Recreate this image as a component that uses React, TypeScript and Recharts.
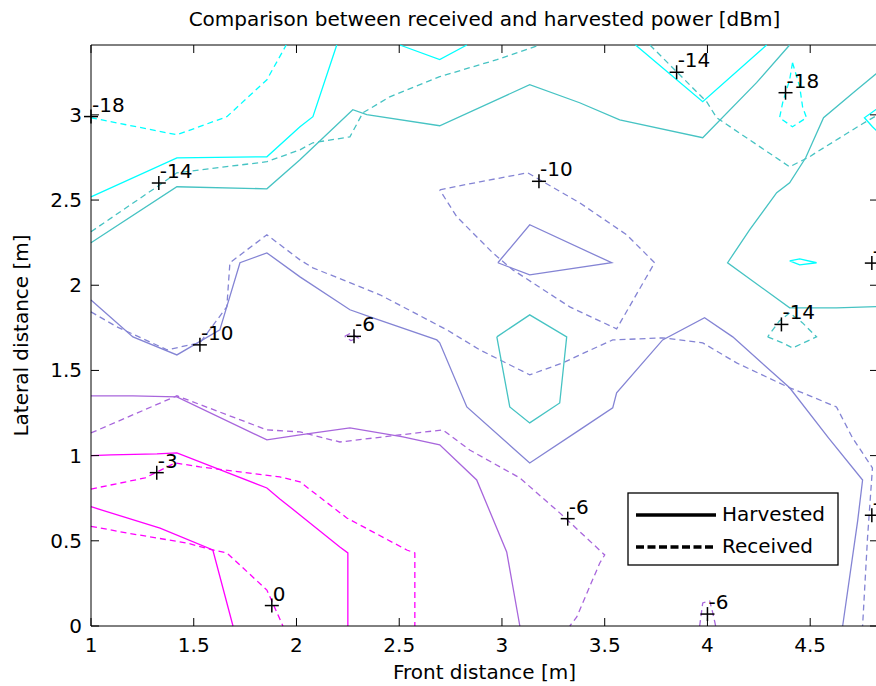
import { ComposedChart, Line, Scatter, XAxis, YAxis, ReferenceLine } from "recharts";

type Pt = [number, number];

// axis setup
const xDomain: [number, number] = [1, 4.83];
const yDomain: [number, number] = [0, 3.41];
const xTicks = [1, 1.5, 2, 2.5, 3, 3.5, 4, 4.5];
const yTicks = [0, 0.5, 1, 1.5, 2, 2.5, 3];

// contour colours per level (dBm)
const levelColors: Record<string, string> = {
  "0": "#ff00ff",
  "-3": "#ff00ff",
  "-6": "#a866dc",
  "-10": "#8484d4",
  "-14": "#46c3c3",
  "-18": "#00ffff",
};

// harvested power contours (solid)
const harvested0: Pt[] = [[1.0, 0.7], [1.336, 0.575], [1.593, 0.446], [1.691, 0.0]];
const harvested3: Pt[] = [
  [1.0, 1.0], [1.097, 1.004], [1.321, 1.01], [1.418, 1.016], [1.856, 0.81], [1.919, 0.746],
  [2.017, 0.652], [2.211, 0.464], [2.25, 0.429], [2.25, 0.0],
];
const harvested6: Pt[] = [
  [1.0, 1.351], [1.204, 1.351], [1.418, 1.345], [1.856, 1.092], [2.017, 1.122], [2.26, 1.163],
  [2.518, 1.11], [2.697, 1.063], [2.877, 0.857], [3.023, 0.435], [3.087, 0.0],
];
const harvested10: Pt[] = [
  [1.0, 1.914], [1.204, 1.697], [1.418, 1.591], [1.627, 1.738], [1.725, 2.132], [1.856, 2.19],
  [2.017, 2.049], [2.26, 1.856], [2.372, 1.809], [2.683, 1.679], [2.697, 1.662], [2.829, 1.286],
  [3.053, 1.045], [3.135, 0.957], [3.378, 1.151], [3.539, 1.28], [3.558, 1.368], [3.782, 1.679],
  [3.986, 1.809], [4.123, 1.697], [4.4, 1.398], [4.589, 1.104], [4.755, 0.857], [4.731, 0.617],
  [4.658, 0.0],
];
const harvested10Loop: Pt[] = [[2.98, 2.132], [3.135, 2.355], [3.534, 2.132], [3.135, 2.061], [2.98, 2.132]];
const harvested14Left: Pt[] = [
  [1.0, 2.249], [1.418, 2.578], [1.856, 2.566], [2.017, 2.736], [2.274, 3.03], [2.342, 3.001],
  [2.697, 2.936], [3.135, 3.177], [3.378, 3.071], [3.573, 2.971], [3.977, 2.866], [4.239, 3.189],
  [4.4, 3.41],
];
const harvested14Right: Pt[] = [
  [4.83, 3.25], [4.721, 3.142], [4.565, 2.983], [4.478, 2.748], [4.4, 2.601], [4.337, 2.543],
  [4.205, 2.325], [4.098, 2.132], [4.4, 1.867], [4.628, 1.867], [4.83, 1.875],
];
const harvested14Loop: Pt[] = [
  [2.975, 1.697], [3.135, 1.826], [3.315, 1.697], [3.281, 1.309], [3.135, 1.192], [3.038, 1.286],
  [2.975, 1.697],
];
const harvested18Left: Pt[] = [
  [1.0, 2.519], [1.418, 2.748], [1.856, 2.754], [2.017, 2.93], [2.08, 2.989], [2.196, 3.41],
];
const harvested18TopA: Pt[] = [[2.503, 3.41], [2.697, 3.324], [2.829, 3.41]];
const harvested18TopB: Pt[] = [[3.65, 3.41], [3.977, 3.077], [4.288, 3.41]];
const harvested18Loop: Pt[] = [[4.4, 2.143], [4.449, 2.155], [4.531, 2.132], [4.449, 2.12], [4.4, 2.143]];
const harvested18Edge: Pt[] = [[4.83, 3.04], [4.764, 2.983], [4.803, 2.93], [4.83, 2.9]];

// received power contours (dashed)
const received0: Pt[] = [
  [1.0, 0.585], [1.175, 0.546], [1.467, 0.487], [1.593, 0.446], [1.661, 0.429], [1.856, 0.211],
  [1.934, 0.0],
];
const received3: Pt[] = [
  [1.0, 0.804], [1.263, 0.869], [1.409, 0.957], [1.53, 0.934], [1.919, 0.875], [2.017, 0.846],
  [2.245, 0.634], [2.537, 0.446], [2.576, 0.429], [2.576, 0.0],
];
const received6: Pt[] = [
  [1.0, 1.133], [1.418, 1.351], [1.856, 1.151], [2.017, 1.139], [2.211, 1.08], [2.712, 1.151],
  [2.843, 1.033], [3.087, 0.869], [3.281, 0.664], [3.5, 0.417], [3.476, 0.37], [3.364, 0.053],
  [3.33, 0.0],
];
const received6LoopA: Pt[] = [[2.235, 1.7], [2.265, 1.72], [2.3, 1.69], [2.265, 1.675], [2.235, 1.7]];
const received6LoopB: Pt[] = [[3.962, 0.0], [3.977, 0.135], [4.011, 0.147], [4.025, 0.082], [4.04, 0.0]];
const received10: Pt[] = [
  [1.0, 1.844], [1.126, 1.756], [1.37, 1.621], [1.53, 1.662], [1.661, 1.873], [1.676, 2.132],
  [1.856, 2.296], [2.017, 2.149], [2.08, 2.102], [2.406, 1.944], [2.732, 1.738], [2.892, 1.621],
  [3.135, 1.474], [3.296, 1.544], [3.378, 1.591], [3.539, 1.679], [3.782, 1.691], [3.977, 1.662],
  [4.142, 1.544], [4.4, 1.398], [4.463, 1.368], [4.628, 1.286], [4.706, 1.104], [4.803, 0.928],
  [4.779, 0.517], [4.755, 0.0],
];
const received10Loop: Pt[] = [
  [2.697, 2.56], [2.892, 2.607], [3.125, 2.66], [3.378, 2.484], [3.607, 2.296], [3.743, 2.132],
  [3.558, 1.744], [3.33, 1.873], [3.053, 2.09], [2.955, 2.19], [2.78, 2.402], [2.697, 2.56],
];
const received14Left: Pt[] = [
  [1.0, 2.314], [1.321, 2.578], [1.418, 2.66], [1.856, 2.725], [2.017, 2.795], [2.08, 2.836],
  [2.26, 2.871], [2.323, 3.012], [2.454, 3.106], [2.697, 3.224], [2.975, 3.324], [3.184, 3.41],
];
const received14Right: Pt[] = [
  [3.72, 3.41], [3.996, 3.077], [4.045, 2.983], [4.4, 2.695], [4.497, 2.754], [4.526, 2.777],
  [4.755, 2.948], [4.83, 3.0],
];
const received14Loop: Pt[] = [
  [4.293, 1.697], [4.366, 1.662], [4.414, 1.632], [4.531, 1.697], [4.463, 1.779], [4.4, 1.838],
  [4.35, 1.79], [4.293, 1.697],
];
const received18Left: Pt[] = [[1.0, 2.983], [1.418, 2.883], [1.661, 2.989], [1.856, 3.206], [1.95, 3.41]];
const received18Loop: Pt[] = [
  [4.414, 3.306], [4.449, 3.165], [4.463, 3.047], [4.482, 2.983], [4.414, 2.93], [4.351, 2.983],
  [4.366, 3.071], [4.4, 3.206], [4.414, 3.306],
];

// clabel positions and their texts
const markerX = [1.0, 1.33, 1.53, 2.28, 1.32, 1.88, 3.18, 3.85, 4.38, 4.36, 3.32, 4.0, 4.8, 4.8];
const markerY = [2.99, 2.6, 1.65, 1.7, 0.9, 0.12, 2.61, 3.25, 3.13, 1.77, 0.63, 0.07, 2.13, 0.65];
const markerLabels = ["-18", "-14", "-10", "-6", "-3", "0", "-10", "-14", "-18", "-14", "-6", "-6", "-14", "-10"];

const contours = [
  { id: "h0", level: "0", dashed: false, pts: harvested0 },
  { id: "r0", level: "0", dashed: true, pts: received0 },
  { id: "h3", level: "-3", dashed: false, pts: harvested3 },
  { id: "r3", level: "-3", dashed: true, pts: received3 },
  { id: "h6", level: "-6", dashed: false, pts: harvested6 },
  { id: "r6", level: "-6", dashed: true, pts: received6 },
  { id: "r6a", level: "-6", dashed: true, pts: received6LoopA },
  { id: "r6b", level: "-6", dashed: true, pts: received6LoopB },
  { id: "h10", level: "-10", dashed: false, pts: harvested10 },
  { id: "h10l", level: "-10", dashed: false, pts: harvested10Loop },
  { id: "r10", level: "-10", dashed: true, pts: received10 },
  { id: "r10l", level: "-10", dashed: true, pts: received10Loop },
  { id: "h14a", level: "-14", dashed: false, pts: harvested14Left },
  { id: "h14b", level: "-14", dashed: false, pts: harvested14Right },
  { id: "h14l", level: "-14", dashed: false, pts: harvested14Loop },
  { id: "r14a", level: "-14", dashed: true, pts: received14Left },
  { id: "r14b", level: "-14", dashed: true, pts: received14Right },
  { id: "r14l", level: "-14", dashed: true, pts: received14Loop },
  { id: "h18a", level: "-18", dashed: false, pts: harvested18Left },
  { id: "h18b", level: "-18", dashed: false, pts: harvested18TopA },
  { id: "h18c", level: "-18", dashed: false, pts: harvested18TopB },
  { id: "h18l", level: "-18", dashed: false, pts: harvested18Loop },
  { id: "h18e", level: "-18", dashed: false, pts: harvested18Edge },
  { id: "r18a", level: "-18", dashed: true, pts: received18Left },
  { id: "r18l", level: "-18", dashed: true, pts: received18Loop },
];

const markers = markerX.map((x, i) => ({ x, y: markerY[i], label: markerLabels[i] }));

const CHART_W = 900;
const CHART_H = 686;
const PLOT_TOP = 45;
const PLOT_BOTTOM = 626;
const PLOT_LEFT = 91;
const PLOT_RIGHT = 878;
const TICK = 8;
const FONT = "'DejaVu Sans', sans-serif";

const toRows = (pts: Pt[]) => pts.map(([x, y]) => ({ x, y }));

const XTick = (props: any) => {
  const { x, payload } = props;
  return (
    <g>
      <line x1={x} x2={x} y1={PLOT_BOTTOM} y2={PLOT_BOTTOM - TICK} stroke="#000" />
      <line x1={x} x2={x} y1={PLOT_TOP} y2={PLOT_TOP + TICK} stroke="#000" />
      <text x={x} y={PLOT_BOTTOM + 26} textAnchor="middle" fontSize={20} fontFamily={FONT} fill="#000">
        {payload.value}
      </text>
    </g>
  );
};

const YTick = (props: any) => {
  const { y, payload } = props;
  return (
    <g>
      <line x1={PLOT_LEFT} x2={PLOT_LEFT + TICK} y1={y} y2={y} stroke="#000" />
      <line x1={PLOT_RIGHT} x2={PLOT_RIGHT - TICK} y1={y} y2={y} stroke="#000" />
      <text x={PLOT_LEFT - 9} y={y + 7} textAnchor="end" fontSize={20} fontFamily={FONT} fill="#000">
        {payload.value}
      </text>
    </g>
  );
};

const LabelMarker = (props: any) => {
  const { cx, cy, payload } = props;
  return (
    <g>
      <line x1={cx - 7} x2={cx + 7} y1={cy} y2={cy} stroke="#000" strokeWidth={1.5} />
      <line x1={cx} x2={cx} y1={cy - 7} y2={cy + 7} stroke="#000" strokeWidth={1.5} />
      <text x={cx + 1} y={cy - 5} fontSize={20} fontFamily={FONT} fill="#000">
        {payload.label}
      </text>
    </g>
  );
};

export default function App() {
  return (
    <div
      style={{
        position: "absolute",
        left: 0,
        top: 0,
        width: 876,
        height: 686,
        overflow: "hidden",
        background: "#fff",
        fontFamily: FONT,
      }}
    >
      <ComposedChart
        width={CHART_W}
        height={CHART_H}
        margin={{ top: PLOT_TOP, right: CHART_W - PLOT_RIGHT, left: 0, bottom: 0 }}
      >
        <XAxis
          type="number"
          dataKey="x"
          domain={xDomain}
          ticks={xTicks}
          height={CHART_H - PLOT_BOTTOM}
          axisLine={{ stroke: "#000" }}
          tickLine={false}
          tick={<XTick />}
          interval={0}
        />
        <YAxis
          type="number"
          dataKey="y"
          domain={yDomain}
          ticks={yTicks}
          width={PLOT_LEFT}
          axisLine={{ stroke: "#000" }}
          tickLine={false}
          tick={<YTick />}
          interval={0}
        />
        <ReferenceLine y={yDomain[1]} stroke="#000" />
        <ReferenceLine x={xDomain[1]} stroke="#000" />
        {contours.map((c) => (
          <Line
            key={c.id}
            data={toRows(c.pts)}
            dataKey="y"
            type="linear"
            stroke={levelColors[c.level]}
            strokeWidth={1.3}
            strokeDasharray={c.dashed ? "6 4" : undefined}
            dot={false}
            activeDot={false}
            isAnimationActive={false}
          />
        ))}
        <Scatter data={markers} dataKey="y" shape={<LabelMarker />} isAnimationActive={false} />
      </ComposedChart>

      <svg
        width={876}
        height={686}
        style={{ position: "absolute", left: 0, top: 0, pointerEvents: "none" }}
        fontFamily={FONT}
      >
        <text x={(PLOT_LEFT + PLOT_RIGHT) / 2} y={26} textAnchor="middle" fontSize={20} fill="#000">
          Comparison between received and harvested power [dBm]
        </text>
        <text x={(PLOT_LEFT + PLOT_RIGHT) / 2} y={679} textAnchor="middle" fontSize={20} fill="#000">
          Front distance [m]
        </text>
        <text
          x={28}
          y={(PLOT_TOP + PLOT_BOTTOM) / 2}
          textAnchor="middle"
          fontSize={20}
          fill="#000"
          transform={`rotate(-90 28 ${(PLOT_TOP + PLOT_BOTTOM) / 2})`}
        >
          Lateral distance [m]
        </text>
        <g>
          <rect x={628} y={493} width={210} height={72} fill="#fff" stroke="#000" strokeWidth={1.3} />
          <line x1={636} x2={716} y1={515} y2={515} stroke="#000" strokeWidth={3.5} />
          <line x1={636} x2={716} y1={547} y2={547} stroke="#000" strokeWidth={3.5} strokeDasharray="8 3.5" />
          <text x={722} y={521} fontSize={20} fill="#000">Harvested</text>
          <text x={722} y={553} fontSize={20} fill="#000">Received</text>
        </g>
      </svg>
    </div>
  );
}
